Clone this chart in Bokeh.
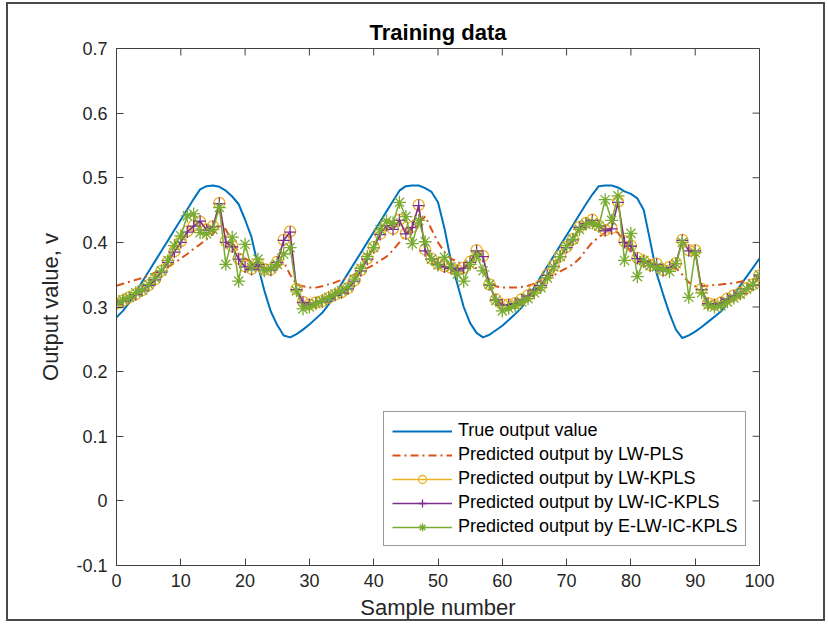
import math
from bokeh.plotting import figure
from bokeh.models import Range1d, FixedTicker
from bokeh.embed import file_html
from bokeh.resources import INLINE

sample = list(range(101))

true_output = [
    0.284, 0.294, 0.307, 0.323, 0.339, 0.355, 0.371, 0.387, 0.403, 0.419,
    0.435, 0.451, 0.467, 0.482, 0.487, 0.488, 0.486, 0.480, 0.471, 0.459,
    0.435, 0.408, 0.364, 0.325, 0.293, 0.272, 0.256, 0.253, 0.258, 0.265,
    0.273, 0.282, 0.291, 0.304, 0.320, 0.336, 0.352, 0.368, 0.384, 0.400,
    0.416, 0.432, 0.448, 0.464, 0.480, 0.487, 0.488, 0.488, 0.484, 0.478,
    0.462, 0.422, 0.372, 0.336, 0.300, 0.275, 0.260, 0.253, 0.257, 0.264,
    0.271, 0.280, 0.289, 0.299, 0.315, 0.331, 0.347, 0.363, 0.379, 0.395,
    0.411, 0.427, 0.443, 0.459, 0.474, 0.487, 0.488, 0.488, 0.485, 0.479,
    0.475, 0.468, 0.450, 0.402, 0.352, 0.320, 0.290, 0.265, 0.252, 0.256,
    0.262, 0.269, 0.277, 0.285, 0.293, 0.305, 0.319, 0.333, 0.347, 0.361,
    0.375,
]

lw_pls = [
    0.333, 0.336, 0.339, 0.342, 0.345, 0.349, 0.353, 0.357, 0.362, 0.368,
    0.375, 0.382, 0.390, 0.397, 0.405, 0.413, 0.425, 0.420, 0.400, 0.385,
    0.375, 0.370, 0.365, 0.360, 0.360, 0.360, 0.370, 0.350, 0.335, 0.332,
    0.330, 0.330, 0.332, 0.335, 0.338, 0.342, 0.346, 0.350, 0.355, 0.360,
    0.365, 0.372, 0.378, 0.388, 0.400, 0.412, 0.420, 0.430, 0.440, 0.420,
    0.400, 0.385, 0.375, 0.370, 0.365, 0.360, 0.360, 0.355, 0.340, 0.332,
    0.330, 0.330, 0.330, 0.331, 0.333, 0.336, 0.340, 0.344, 0.349, 0.355,
    0.360, 0.366, 0.375, 0.388, 0.400, 0.408, 0.415, 0.420, 0.415, 0.400,
    0.385, 0.375, 0.370, 0.365, 0.360, 0.360, 0.360, 0.360, 0.350, 0.338,
    0.332, 0.332, 0.333, 0.334, 0.335, 0.336, 0.337, 0.339, 0.341, 0.343,
    0.345,
]

lw_kpls = [
    0.306, 0.310, 0.315, 0.320, 0.326, 0.334, 0.343, 0.356, 0.370, 0.386,
    0.402, 0.417, 0.426, 0.432, 0.420, 0.425, 0.461, 0.402, 0.394, 0.375,
    0.363, 0.359, 0.367, 0.358, 0.358, 0.370, 0.404, 0.417, 0.328, 0.308,
    0.304, 0.307, 0.309, 0.314, 0.319, 0.323, 0.329, 0.341, 0.357, 0.375,
    0.393, 0.413, 0.427, 0.421, 0.435, 0.414, 0.424, 0.458, 0.389, 0.375,
    0.367, 0.363, 0.361, 0.357, 0.361, 0.370, 0.388, 0.379, 0.335, 0.312,
    0.304, 0.304, 0.306, 0.312, 0.318, 0.327, 0.334, 0.350, 0.364, 0.379,
    0.393, 0.405, 0.424, 0.430, 0.435, 0.426, 0.419, 0.422, 0.463, 0.402,
    0.395, 0.376, 0.371, 0.365, 0.367, 0.357, 0.362, 0.368, 0.404, 0.388,
    0.388, 0.328, 0.306, 0.304, 0.307, 0.313, 0.318, 0.322, 0.329, 0.335,
    0.349,
]

lw_ic_kpls = [
    0.304, 0.309, 0.314, 0.319, 0.325, 0.333, 0.342, 0.354, 0.369, 0.385,
    0.400, 0.416, 0.425, 0.433, 0.419, 0.424, 0.460, 0.400, 0.393, 0.374,
    0.362, 0.358, 0.366, 0.357, 0.357, 0.369, 0.403, 0.416, 0.327, 0.307,
    0.303, 0.306, 0.308, 0.313, 0.318, 0.322, 0.328, 0.340, 0.356, 0.374,
    0.392, 0.412, 0.426, 0.420, 0.434, 0.413, 0.423, 0.457, 0.387, 0.374,
    0.366, 0.362, 0.360, 0.356, 0.360, 0.369, 0.387, 0.378, 0.334, 0.311,
    0.303, 0.303, 0.305, 0.311, 0.317, 0.326, 0.333, 0.349, 0.363, 0.378,
    0.392, 0.404, 0.423, 0.429, 0.434, 0.425, 0.418, 0.421, 0.462, 0.400,
    0.394, 0.375, 0.370, 0.364, 0.366, 0.356, 0.361, 0.367, 0.403, 0.387,
    0.387, 0.327, 0.305, 0.303, 0.306, 0.312, 0.317, 0.321, 0.328, 0.334,
    0.348,
]

e_lw_ic_kpls = [
    0.305, 0.311, 0.315, 0.322, 0.326, 0.335, 0.345, 0.356, 0.372, 0.395,
    0.410, 0.441, 0.444, 0.415, 0.413, 0.420, 0.454, 0.366, 0.408, 0.340,
    0.397, 0.361, 0.374, 0.356, 0.360, 0.366, 0.382, 0.392, 0.325, 0.297,
    0.300, 0.305, 0.310, 0.315, 0.320, 0.325, 0.331, 0.343, 0.360, 0.378,
    0.392, 0.420, 0.433, 0.430, 0.462, 0.440, 0.398, 0.434, 0.401, 0.374,
    0.365, 0.377, 0.362, 0.351, 0.340, 0.366, 0.380, 0.356, 0.335, 0.310,
    0.294, 0.298, 0.302, 0.308, 0.313, 0.322, 0.330, 0.345, 0.362, 0.378,
    0.395, 0.405, 0.420, 0.428, 0.430, 0.425, 0.466, 0.434, 0.472, 0.372,
    0.414, 0.347, 0.372, 0.364, 0.362, 0.358, 0.355, 0.367, 0.400, 0.315,
    0.384, 0.322, 0.303, 0.300, 0.302, 0.308, 0.314, 0.320, 0.328, 0.335,
    0.350,
]

x_ticks = [0, 10, 20, 30, 40, 50, 60, 70, 80, 90, 100]
y_ticks = [-0.1, 0, 0.1, 0.2, 0.3, 0.4, 0.5, 0.6, 0.7]
y_tick_labels = ["-0.1", "0", "0.1", "0.2", "0.3", "0.4", "0.5", "0.6", "0.7"]

FONT = "Liberation Sans"
AX = "#404040"

p = figure(width=819, height=619, output_backend="svg", toolbar_location=None,
           x_range=Range1d(0, 100), y_range=Range1d(-0.1, 0.7),
           title="Training data",
           min_border_left=108, min_border_right=68,
           min_border_top=44, min_border_bottom=58)
p.styles = {"border": "2px solid #4a4a4a", "margin-left": "6px", "margin-top": "2px"}
p.outline_line_color = AX
p.outline_line_width = 1
p.grid.visible = False
p.background_fill_color = "white"
p.border_fill_color = "white"

p.title.text_font = FONT
p.title.text_font_size = "22px"
p.title.text_font_style = "bold"
p.title.align = "center"
p.title.text_color = "black"
p.title.standoff = 8

for ax in p.xaxis:
    ax.ticker = FixedTicker(ticks=x_ticks)
for ax in p.yaxis:
    ax.ticker = FixedTicker(ticks=y_ticks)
    ax.major_label_overrides = dict(zip(y_ticks, y_tick_labels))

for ax in list(p.xaxis) + list(p.yaxis):
    ax.major_tick_in = 7
    ax.major_tick_out = 0
    ax.minor_tick_line_color = None
    ax.axis_line_color = AX
    ax.major_tick_line_color = AX
    ax.major_label_text_font = FONT
    ax.major_label_text_font_size = "18px"
    ax.major_label_text_color = "#262626"
    ax.axis_label_text_font = FONT
    ax.axis_label_text_font_size = "22px"
    ax.axis_label_text_font_style = "normal"
    ax.axis_label_text_color = "#262626"

p.xaxis.axis_label = "Sample number"
p.yaxis.axis_label = "Output value, v"
p.xaxis.major_label_standoff = 8
p.xaxis.axis_label_standoff = 5
p.yaxis.major_label_standoff = 9
p.yaxis.axis_label_standoff = 10

# mirrored inward tick marks on the top and right edges (clipped to the frame)
p.scatter(x_ticks, [0.7] * len(x_ticks), marker="dash", angle=math.pi / 2, size=14,
          line_color=AX, line_width=1)
p.scatter([100] * len(y_ticks), y_ticks, marker="dash", size=14,
          line_color=AX, line_width=1)

BLUE = "#0072BD"
RED = "#D95319"
YEL = "#EDB120"
PUR = "#7E2F8E"
GRN = "#77AC30"

p.line(sample, true_output, line_color=BLUE, line_width=2, legend_label="True output value")
p.line(sample, lw_pls, line_color=RED, line_width=2, line_dash="8 4 2 4",
       legend_label="Predicted output by LW-PLS")
p.line(sample, lw_kpls, line_color=YEL, line_width=1.5, legend_label="Predicted output by LW-KPLS")
p.scatter(sample, lw_kpls, marker="circle", size=11, fill_color=None, line_color=YEL,
          line_width=1.3, legend_label="Predicted output by LW-KPLS")
p.line(sample, lw_ic_kpls, line_color=PUR, line_width=1.5, legend_label="Predicted output by LW-IC-KPLS")
p.scatter(sample, lw_ic_kpls, marker="cross", size=12, line_color=PUR,
          line_width=1.3, legend_label="Predicted output by LW-IC-KPLS")
p.line(sample, e_lw_ic_kpls, line_color=GRN, line_width=1.5, legend_label="Predicted output by E-LW-IC-KPLS")
p.scatter(sample, e_lw_ic_kpls, marker="asterisk", size=13, line_color=GRN,
          line_width=1.3, legend_label="Predicted output by E-LW-IC-KPLS")

lg = p.legend[0]
lg.location = (267, 19)
lg.margin = 0
lg.padding = 8
lg.spacing = 3
lg.glyph_width = 60
lg.glyph_height = 20
lg.label_height = 20
lg.label_standoff = 6
lg.label_text_font = FONT
lg.label_text_font_size = "18px"
lg.label_text_color = "black"
lg.border_line_color = "#333333"
lg.border_line_width = 1.5
lg.background_fill_alpha = 1

open("out.html", "w").write(file_html(p, INLINE))
